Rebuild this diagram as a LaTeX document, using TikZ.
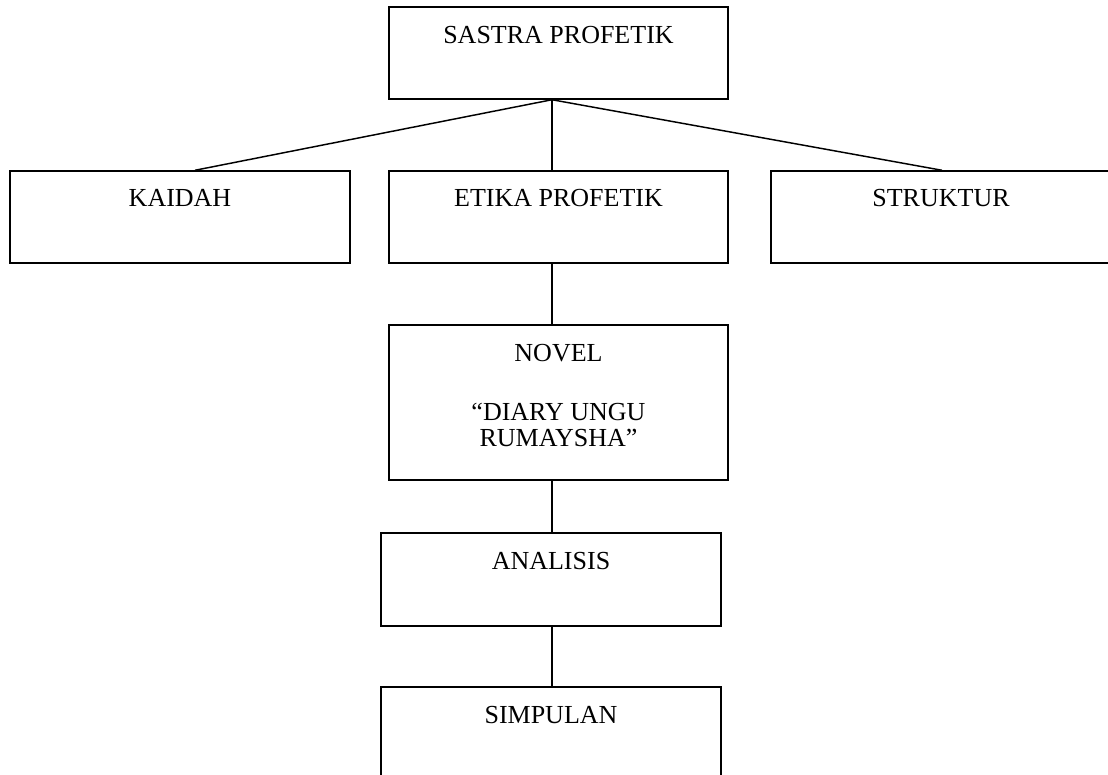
\documentclass[tikz,border=0pt]{standalone}
\usepackage{fontspec}
\setmainfont{Liberation Serif}
\begin{document}
\begin{tikzpicture}[x=0.75pt,y=-0.75pt,
  box/.style={draw, line width=1.1pt, inner sep=0pt, fill=white},
  lbl/.style={anchor=base, inner sep=0pt, font=\fontsize{19.5}{23}\selectfont},
  link/.style={line width=1.1pt}]
\path[use as bounding box, clip] (0,0) rectangle (1108,775);
\fill[white] (0,0) rectangle (1108,775);
% boxes
\node[box, minimum width=254.25pt, minimum height=69pt] (sastra) at (558.5,53) {};
\node[box, minimum width=255pt, minimum height=69pt] (kaidah) at (180,217) {};
\node[box, minimum width=254.25pt, minimum height=69pt] (etika) at (558.5,217) {};
\node[box, minimum width=255pt, minimum height=69pt] (struktur) at (941,217) {};
\node[box, minimum width=254.25pt, minimum height=116.25pt] (novel) at (558.5,402.5) {};
\node[box, minimum width=255pt, minimum height=69.75pt] (analisis) at (551,579.5) {};
\node[box, minimum width=255pt, minimum height=84.75pt] (simpulan) at (551,743.5) {};
% labels
\node[lbl] (tsastra) at (558.5,43) {SASTRA PROFETIK};
\node[lbl] (tkaidah) at (180,206) {KAIDAH};
\node[lbl] (tetika) at (558.5,206) {ETIKA PROFETIK};
\node[lbl] (tstruktur) at (941,206) {STRUKTUR};
\node[lbl] (tnovel1) at (558.5,361) {NOVEL};
\node[lbl] (tnovel2) at (558.5,420) {“DIARY UNGU};
\node[lbl] (tnovel3) at (558.5,446) {RUMAYSHA”};
\node[lbl] (tanalisis) at (551,569) {ANALISIS};
\node[lbl] (tsimpulan) at (551,723) {SIMPULAN};
% connectors
\coordinate (hub) at ([xshift=-4.875pt]sastra.south);
\draw[link] (hub) -- ([xshift=11.25pt]kaidah.north);
\draw[link] (hub) -- ([xshift=-4.875pt]etika.north);
\draw[link] (hub) -- ([xshift=0.75pt]struktur.north);
\draw[link] ([xshift=-4.875pt]etika.south) -- ([xshift=-4.875pt]novel.north);
\draw[link] ([xshift=-4.875pt]novel.south) -- ([xshift=0.75pt]analisis.north);
\draw[link] ([xshift=0.75pt]analisis.south) -- ([xshift=0.75pt]simpulan.north);
\end{tikzpicture}
\end{document}
